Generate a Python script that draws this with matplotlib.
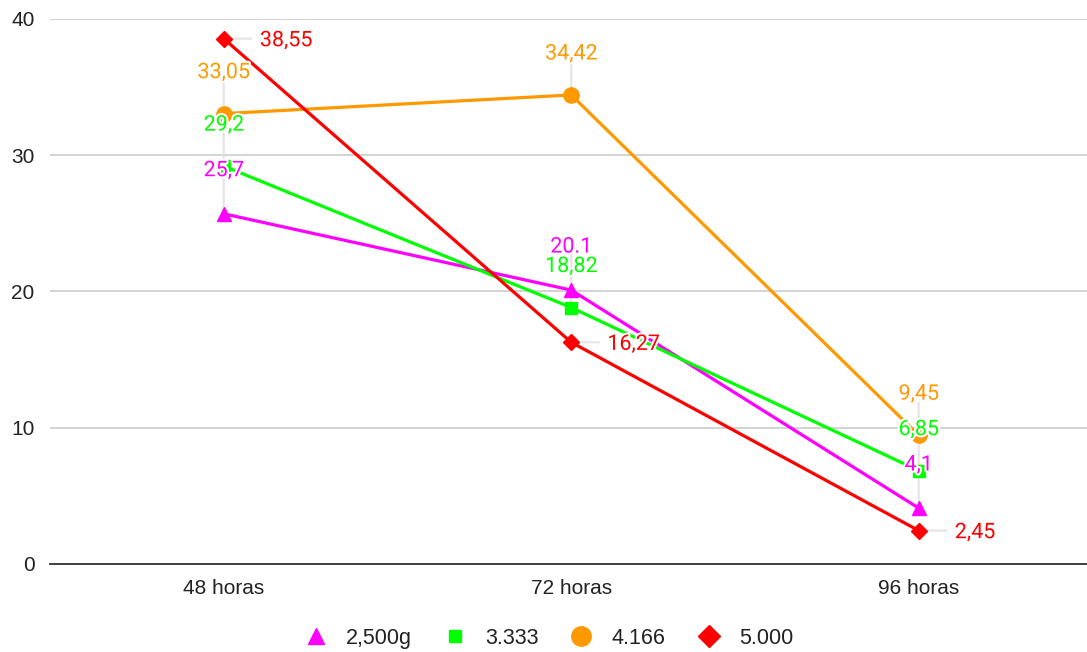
import matplotlib.pyplot as plt
import matplotlib.patheffects as pe
from matplotlib.lines import Line2D

plt.rcParams['font.family'] = ['Roboto', 'DejaVu Sans']

# datos
categorias = ['48 horas', '72 horas', '96 horas']
series = ['2,500g', '3.333', '4.166', '5.000']
valores = [
    [25.7, 20.1, 4.1],
    [29.2, 18.82, 6.85],
    [33.05, 34.42, 9.45],
    [38.55, 16.27, 2.45],
]
etiquetas = [
    ['25,7', '20.1', '4,1'],
    ['29,2', '18,82', '6,85'],
    ['33,05', '34,42', '9,45'],
    ['38,55', '16,27', '2,45'],
]
colores = ['#ff00ff', '#00ff00', '#ff9900', '#ff0000']
marcadores = ['^', 's', 'o', 'D']
tam = [10, 8, 11, 8.5]

fig = plt.figure(figsize=(10.87, 6.52), dpi=100)
ax = fig.add_axes([0.046, 0.135, 0.959, 0.836])

x = list(range(len(categorias)))
for i in range(len(series)):
    ax.plot(x, valores[i], color=colores[i], lw=2.3, marker=marcadores[i],
            ms=tam[i], zorder=3 + i)

# etiquetas con lineas guia
halo = [pe.withStroke(linewidth=3, foreground='white')]
for i in range(len(series)):
    for j in range(len(x)):
        if i == 3:
            guia, off, ha = (26, 0), (26, -1.5), 'left'
        else:
            dy = 31 if i == 0 else 29.5
            guia, off, ha = (0, dy), (0, dy), 'center'
        # linea guia, debajo de las series
        ax.annotate('', (x[j], valores[i][j]), xytext=guia,
                    textcoords='offset points', zorder=2,
                    arrowprops=dict(arrowstyle='-', color='#e4e4e4', lw=1.5,
                                    shrinkA=6, shrinkB=0))
        ax.annotate(etiquetas[i][j], (x[j], valores[i][j]), xytext=off,
                    textcoords='offset points', ha=ha, va='center',
                    fontsize=15.5, color=colores[i], zorder=10,
                    path_effects=halo, annotation_clip=False)

ax.set_xlim(-0.5, 2.5)
ax.set_ylim(0, 40)
ax.set_yticks([0, 10, 20, 30, 40])
ax.set_xticks(x)
ax.set_xticklabels(categorias)
ax.tick_params(axis='both', length=0, labelsize=15, colors='#222222')
ax.tick_params(axis='y', pad=11)
ax.tick_params(axis='x', pad=11)
for lbl in ax.get_xticklabels() + ax.get_yticklabels():
    lbl.set_family(['Liberation Sans', 'DejaVu Sans'])
ax.grid(axis='y', color='#cccccc', lw=1.2)
ax.set_axisbelow(True)
for s in ['top', 'right', 'left']:
    ax.spines[s].set_visible(False)
ax.spines['bottom'].set_color('#333333')
ax.spines['bottom'].set_linewidth(1.3)
ax.spines['bottom'].set_zorder(2.5)

handles = [Line2D([], [], ls='none', marker=marcadores[i], color=colores[i],
                  ms=[11, 9, 14, 11][i]) for i in range(len(series))]
fig.legend(handles, series, loc='center', bbox_to_anchor=(0.5, 0.021), ncol=4,
           frameon=False, handletextpad=0.4, columnspacing=1.0,
           labelcolor='#222222',
           prop={'family': ['Liberation Sans', 'DejaVu Sans'], 'size': 15.5})

fig.savefig('out.png', dpi=100)
